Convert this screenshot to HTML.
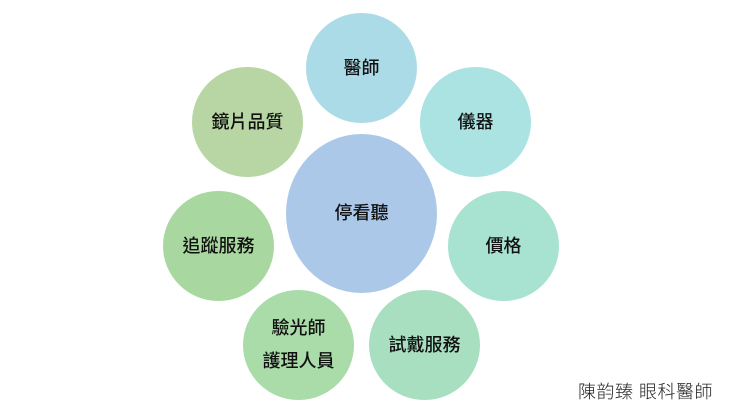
<!DOCTYPE html>
<html><head><meta charset="utf-8"><style>
html,body{margin:0;padding:0;background:#fff;}
body{width:737px;height:415px;overflow:hidden;position:relative;}
.c{position:absolute;border-radius:50%;display:flex;align-items:center;justify-content:center;text-align:center;
font-family:"Liberation Sans","Noto Sans CJK TC",sans-serif;font-size:18px;font-weight:500;color:#111;line-height:33px;}
.sig{position:absolute;left:578px;top:378px;font-family:"Liberation Sans","Noto Sans CJK TC",sans-serif;font-size:18px;font-weight:300;color:#222;letter-spacing:0.5px;white-space:nowrap;}
</style></head><body>
<div class="c" style="left:286px;top:134px;width:151px;height:159px;background:#acc8e8">停看聽</div>
<div class="c" style="left:306px;top:13px;width:111px;height:110px;background:#acdbe8">醫師</div>
<div class="c" style="left:420px;top:67px;width:111px;height:110px;background:#aae3e2">儀器</div>
<div class="c" style="left:192px;top:67px;width:111px;height:110px;background:#b8d6a4">鏡片品質</div>
<div class="c" style="left:163px;top:191px;width:111px;height:110px;background:#a8d8a0">追蹤服務</div>
<div class="c" style="left:448px;top:191px;width:111px;height:110px;background:#a8e2d0">價格</div>
<div class="c" style="left:243px;top:290px;width:111px;height:110px;background:#a9dca8">驗光師<br>護理人員</div>
<div class="c" style="left:369px;top:290px;width:111px;height:110px;background:#a8dfc0">試戴服務</div>
<div class="sig">陳韵臻 眼科醫師</div>
</body></html>
